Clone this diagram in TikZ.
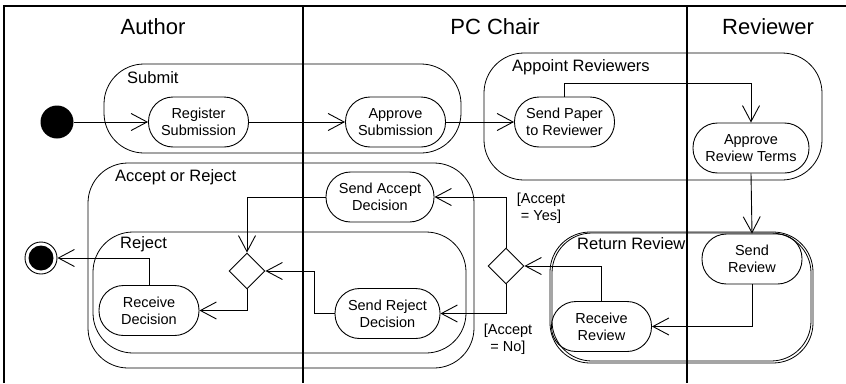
\documentclass[tikz,border=0pt]{standalone}
\usepackage{fontspec}
\setmainfont{Liberation Sans}
\usetikzlibrary{arrows.meta,shapes.geometric}

\begin{document}
\begin{tikzpicture}[x=1pt,y=-1pt,
  lane/.style={line width=2pt},
  group/.style={draw,line width=0.8pt,rounded corners=40pt},
  glabel/.style={anchor=west,inner sep=0pt,font=\fontsize{16.5}{19}\selectfont},
  title/.style={inner sep=0pt,font=\fontsize{22}{26}\selectfont},
  action/.style={draw,line width=0.9pt,rounded corners=24.5pt,minimum width=100pt,
    minimum height=50pt,inner sep=1pt,align=center,font=\fontsize{14.5}{17}\selectfont},
  branch/.style={draw,diamond,line width=0.9pt,minimum width=36pt,minimum height=36pt,inner sep=0pt},
  guard/.style={inner sep=0pt,align=center,font=\fontsize{14.5}{17}\selectfont},
  flow/.style={line width=0.9pt,-{Straight Barb[length=16pt,width=17pt]}}]
\useasboundingbox (0,0) rectangle (846,383);

% swimlanes
\draw [lane] (4,383) -- (4,6) -- (846,6);
\draw [lane] (303,6) -- (303,383);
\draw [lane] (687,6) -- (687,383);
\node [title] (author) at (153,27) {Author};
\node [title] (chair) at (495,27) {PC Chair};
\node [title] (reviewer) at (768,27) {Reviewer};

% activity groups
\draw [group] (104,64) rectangle (461,153);
\node [glabel] (submitlbl) at (127,78) {Submit};
\draw [group] (484,53) rectangle (822,180);
\node [glabel] (appointlbl) at (512,67) {Appoint Reviewers};
\draw [group] (88,163) rectangle (474,368);
\node [glabel] (acceptlbl) at (115,177) {Accept or Reject};
\draw [group] (93,232) rectangle (466,353);
\node [glabel] (rejectlbl) at (120,244) {Reject};
\draw [group] (550,232) rectangle (813,363);
\draw [group] (552,233) rectangle (811,361);
\node [glabel] (returnlbl) at (577,244) {Return Review};

% actions
\node [circle,fill=black,minimum size=33pt,inner sep=0pt] (init) at (57,122) {};
\node [circle,draw,line width=0.9pt,minimum size=32pt,inner sep=0pt,
  path picture={\fill (path picture bounding box.center) circle (12.5pt);}] (final) at (41,258) {};
\node [action] (regsub) at (198.5,122) {Register\\Submission};
\node [action] (apprsub) at (395.5,122) {Approve\\Submission};
\node [action] (sendpaper) at (564.5,122) {Send Paper\\to Reviewer};
\node [action,minimum width=116pt] (apprterms) at (751,148) {Approve\\Review Terms};
\node [action] (sendrev) at (752,259) {Send\\Review};
\node [action] (recrev) at (601.5,326.5) {Receive\\Review};
\node [branch] (accdec) at (506,266) {};
\node [action,minimum width=108pt] (sendacc) at (380,197) {Send Accept\\Decision};
\node [action,minimum width=105pt] (sendrej) at (387.5,313.5) {Send Reject\\Decision};
\node [branch] (merge) at (247,271) {};
\node [action] (recdec) at (149,310.5) {Receive\\Decision};
\node [guard] (yes) at (541,208) {[Accept\\= Yes]};
\node [guard] (no) at (508,339) {[Accept\\= No]};

% control flow
\draw [flow] (init) -- (regsub);
\draw [flow] (regsub) -- (apprsub);
\draw [flow] (apprsub) -- (sendpaper);
\draw [flow] (sendpaper.north) -- ++(0,-13) -| (apprterms.north);
\draw [flow] (apprterms.south) -- (sendrev.north);
\draw [flow] (sendrev.south) |- (recrev.east);
\draw [flow] (recrev.north) |- (accdec.east);
\draw [flow] (accdec.north) |- (sendacc.east);
\draw [flow] (accdec.south) |- (sendrej.east);
\draw [flow] (sendacc.west) -| (merge.north);
\draw [flow] (sendrej.west) -- ++(-20,0) |- (merge.east);
\draw [flow] (merge.south) |- (recdec.east);
\draw [flow] (recdec.north) |- (final.east);
\end{tikzpicture}
\end{document}
